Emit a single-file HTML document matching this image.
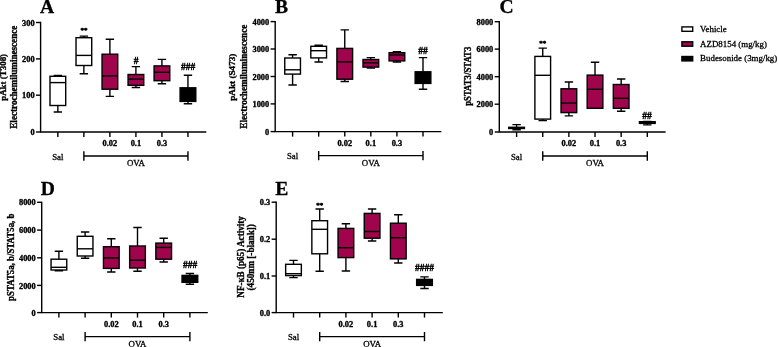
<!DOCTYPE html>
<html>
<head>
<meta charset="utf-8">
<title>Figure</title>
<style>
html,body{margin:0;padding:0;background:#fff;}
body{width:778px;height:347px;overflow:hidden;font-family:"Liberation Serif",serif;}
svg{display:block;will-change:transform;filter:blur(0.3px);font-family:"Liberation Serif",serif;}
svg path,svg rect{stroke:#000;stroke-width:1.4;}
svg text{fill:#000;stroke:#000;stroke-width:0.3;}
svg text.a{stroke-width:0.45;}
svg text.b{font-weight:bold;stroke:#000;stroke-width:0.35;}
</style>
</head>
<body>
<svg width="778" height="347" viewBox="0 0 778 347">
<rect x="0" y="0" width="778" height="347" fill="#fff" style="stroke:none"/>
<g id="A">
<text x="40" y="13.3" font-size="19.6" font-weight="bold">A</text>
<path d="M40.6 21.85V132H206.3" fill="none"/>
<path d="M36 22.5H40.6"/>
<text x="34.6" y="25.6" font-size="8.4" class="b" text-anchor="end">300</text>
<path d="M36 58.9H40.6"/>
<text x="34.6" y="62" font-size="8.4" class="b" text-anchor="end">200</text>
<path d="M36 95.2H40.6"/>
<text x="34.6" y="98.3" font-size="8.4" class="b" text-anchor="end">100</text>
<path d="M36 132H40.6"/>
<text x="34.6" y="135.1" font-size="8.4" class="b" text-anchor="end">0</text>
<path d="M57.85 132V137"/>
<path d="M83.87 132V137"/>
<path d="M109.89 132V137"/>
<path d="M135.91 132V137"/>
<path d="M161.93 132V137"/>
<path d="M187.95 132V137"/>
<text x="109.89" y="146.3" font-size="8.4" class="b" text-anchor="middle">0.02</text>
<text x="135.91" y="146.3" font-size="8.4" class="b" text-anchor="middle">0.1</text>
<text x="161.93" y="146.3" font-size="8.4" class="b" text-anchor="middle">0.3</text>
<text x="57.85" y="159.5" font-size="8.8" text-anchor="middle">Sal</text>
<text x="135.91" y="166.2" font-size="8.8" text-anchor="middle">OVA</text>
<path d="M83.87 156H187.95M83.87 151.3V160.7M187.95 151.3V160.7"/>
<text transform="translate(5.5 100.8) rotate(-90)" font-size="9.2" class="b" textLength="46.9" lengthAdjust="spacingAndGlyphs">pAkt (T308)</text>
<text transform="translate(16.9 128.7) rotate(-90)" font-size="9.6" class="b" textLength="103" lengthAdjust="spacingAndGlyphs">Electrochemiluminescence</text>
<path d="M57.85 75.4V76.3M57.85 105.5V112M53.65 75.4H62.05M53.65 112H62.05"/><rect x="50" y="76.3" width="15.7" height="29.2" fill="#fff"/><path d="M50 82.6H65.7"/>
<path d="M83.87 36.1V37.7M83.87 65.5V73.8M79.67 36.1H88.07M79.67 73.8H88.07"/><rect x="76.02" y="37.7" width="15.7" height="27.8" fill="#fff"/><path d="M76.02 55.4H91.72"/>
<path d="M109.89 39.3V54.2M109.89 89.2V96.4M105.69 39.3H114.09M105.69 96.4H114.09"/><rect x="102.04" y="54.2" width="15.7" height="35" fill="#A0044D"/><path d="M102.04 75.9H117.74"/>
<path d="M135.91 66.6V74.5M135.91 85.3V87.5M131.71 66.6H140.11M131.71 87.5H140.11"/><rect x="128.06" y="74.5" width="15.7" height="10.8" fill="#A0044D"/><path d="M128.06 79.1H143.76"/>
<path d="M161.93 59.4V65.9M161.93 80.7V83.7M157.73 59.4H166.13M157.73 83.7H166.13"/><rect x="154.08" y="65.9" width="15.7" height="14.8" fill="#A0044D"/><path d="M154.08 72.3H169.78"/>
<path d="M187.95 75.2V87.8M187.95 101.4V103.7M183.75 75.2H192.15M183.75 103.7H192.15"/><rect x="180.1" y="87.8" width="15.7" height="13.6" fill="#000"/>
<text x="84" y="32.2" font-size="7" font-weight="bold" class="a" text-anchor="middle">**</text>
<text x="136" y="63.8" font-size="9.5" font-weight="normal" class="a" text-anchor="middle">#</text>
<text x="188" y="69.9" font-size="9.5" font-weight="normal" class="a" text-anchor="middle">###</text>
</g>
<g id="B">
<text x="275" y="13.3" font-size="19.6" font-weight="bold">B</text>
<path d="M275.2 20.95V131.6H441.3" fill="none"/>
<path d="M270.6 21.6H275.2"/>
<text x="269.2" y="24.7" font-size="8.4" class="b" text-anchor="end">4000</text>
<path d="M270.6 49H275.2"/>
<text x="269.2" y="52.1" font-size="8.4" class="b" text-anchor="end">3000</text>
<path d="M270.6 76.5H275.2"/>
<text x="269.2" y="79.6" font-size="8.4" class="b" text-anchor="end">2000</text>
<path d="M270.6 103.9H275.2"/>
<text x="269.2" y="107" font-size="8.4" class="b" text-anchor="end">1000</text>
<path d="M270.6 131.6H275.2"/>
<text x="269.2" y="134.7" font-size="8.4" class="b" text-anchor="end">0</text>
<path d="M292.6 131.6V136.6"/>
<path d="M318.68 131.6V136.6"/>
<path d="M344.76 131.6V136.6"/>
<path d="M370.84 131.6V136.6"/>
<path d="M396.92 131.6V136.6"/>
<path d="M423 131.6V136.6"/>
<text x="344.76" y="145.9" font-size="8.4" class="b" text-anchor="middle">0.02</text>
<text x="370.84" y="145.9" font-size="8.4" class="b" text-anchor="middle">0.1</text>
<text x="396.92" y="145.9" font-size="8.4" class="b" text-anchor="middle">0.3</text>
<text x="292.6" y="159.1" font-size="8.8" text-anchor="middle">Sal</text>
<text x="370.84" y="165.8" font-size="8.8" text-anchor="middle">OVA</text>
<path d="M318.68 155.6H423M318.68 150.9V160.3M423 150.9V160.3"/>
<text transform="translate(235.3 100.8) rotate(-90)" font-size="9.2" class="b" textLength="47.2" lengthAdjust="spacingAndGlyphs">pAkt (S473)</text>
<text transform="translate(246.9 128.7) rotate(-90)" font-size="9.6" class="b" textLength="104.1" lengthAdjust="spacingAndGlyphs">Electrochemiluminescence</text>
<path d="M292.6 54.8V58M292.6 74.1V85M288.4 54.8H296.8M288.4 85H296.8"/><rect x="284.75" y="58" width="15.7" height="16.1" fill="#fff"/><path d="M284.75 69.8H300.45"/>
<path d="M318.68 45.3V46.3M318.68 57.9V62M314.48 45.3H322.88M314.48 62H322.88"/><rect x="310.83" y="46.3" width="15.7" height="11.6" fill="#fff"/><path d="M310.83 50.7H326.53"/>
<path d="M344.76 29.9V48.4M344.76 79.2V81.5M340.56 29.9H348.96M340.56 81.5H348.96"/><rect x="336.91" y="48.4" width="15.7" height="30.8" fill="#A0044D"/><path d="M336.91 61.9H352.61"/>
<path d="M370.84 57.6V59.5M370.84 67.1V68.1M366.64 57.6H375.04M366.64 68.1H375.04"/><rect x="362.99" y="59.5" width="15.7" height="7.6" fill="#A0044D"/><path d="M362.99 62.8H378.69"/>
<path d="M396.92 51.8V52.7M396.92 60.9V62M392.72 51.8H401.12M392.72 62H401.12"/><rect x="389.07" y="52.7" width="15.7" height="8.2" fill="#A0044D"/><path d="M389.07 55H404.77"/>
<path d="M423 57.6V71.8M423 83.4V89.3M418.8 57.6H427.2M418.8 89.3H427.2"/><rect x="415.15" y="71.8" width="15.7" height="11.6" fill="#000"/>
<text x="423" y="53.5" font-size="9.5" font-weight="normal" class="a" text-anchor="middle">##</text>
</g>
<g id="C">
<text x="499.6" y="13.3" font-size="19.6" font-weight="bold">C</text>
<path d="M499.3 21.05V132H665.6" fill="none"/>
<path d="M494.7 21.7H499.3"/>
<text x="493.3" y="24.8" font-size="8.4" class="b" text-anchor="end">8000</text>
<path d="M494.7 49.1H499.3"/>
<text x="493.3" y="52.2" font-size="8.4" class="b" text-anchor="end">6000</text>
<path d="M494.7 76.7H499.3"/>
<text x="493.3" y="79.8" font-size="8.4" class="b" text-anchor="end">4000</text>
<path d="M494.7 104.2H499.3"/>
<text x="493.3" y="107.3" font-size="8.4" class="b" text-anchor="end">2000</text>
<path d="M494.7 132H499.3"/>
<text x="493.3" y="135.1" font-size="8.4" class="b" text-anchor="end">0</text>
<path d="M516.6 132V137"/>
<path d="M542.74 132V137"/>
<path d="M568.88 132V137"/>
<path d="M595.02 132V137"/>
<path d="M621.16 132V137"/>
<path d="M647.3 132V137"/>
<text x="568.88" y="146.3" font-size="8.4" class="b" text-anchor="middle">0.02</text>
<text x="595.02" y="146.3" font-size="8.4" class="b" text-anchor="middle">0.1</text>
<text x="621.16" y="146.3" font-size="8.4" class="b" text-anchor="middle">0.3</text>
<text x="516.6" y="159.5" font-size="8.8" text-anchor="middle">Sal</text>
<text x="595.02" y="166.2" font-size="8.8" text-anchor="middle">OVA</text>
<path d="M542.74 156H647.3M542.74 151.3V160.7M647.3 151.3V160.7"/>
<text transform="translate(471.4 105.8) rotate(-90)" font-size="9.6" class="b" textLength="59.1" lengthAdjust="spacingAndGlyphs">pSTAT3/STAT3</text>
<path d="M516.6 124.6V127.3M516.6 128.5V129.7M512.4 124.6H520.8M512.4 129.7H520.8"/><rect x="508.75" y="127.3" width="15.7" height="1.2" fill="#000"/>
<path d="M542.74 48.1V56.4M542.74 119.1V120.6M538.54 48.1H546.94M538.54 120.6H546.94"/><rect x="534.89" y="56.4" width="15.7" height="62.7" fill="#fff"/><path d="M534.89 75.3H550.59"/>
<path d="M568.88 82V88.8M568.88 112.6V115.9M564.68 82H573.08M564.68 115.9H573.08"/><rect x="561.03" y="88.8" width="15.7" height="23.8" fill="#A0044D"/><path d="M561.03 103.1H576.73"/>
<path d="M595.02 62.2V75.1M595.02 108.3V108.3M590.82 62.2H599.22M590.82 108.3H599.22"/><rect x="587.17" y="75.1" width="15.7" height="33.2" fill="#A0044D"/><path d="M587.17 89.3H602.87"/>
<path d="M621.16 79V84.5M621.16 108.3V111.2M616.96 79H625.36M616.96 111.2H625.36"/><rect x="613.31" y="84.5" width="15.7" height="23.8" fill="#A0044D"/><path d="M613.31 98.3H629.01"/>
<path d="M647.3 121.4V121.7M647.3 123.4V124.9M643.1 121.4H651.5M643.1 124.9H651.5"/><rect x="639.45" y="121.7" width="15.7" height="1.7" fill="#000"/>
<text x="542.8" y="44.8" font-size="7" font-weight="bold" class="a" text-anchor="middle">**</text>
<text x="647.1" y="118.9" font-size="9.5" font-weight="normal" class="a" text-anchor="middle">##</text>
</g>
<g id="D">
<text x="40.7" y="195" font-size="19.6" font-weight="bold">D</text>
<path d="M41.7 201.65V312.6H207.8" fill="none"/>
<path d="M37.1 202.3H41.7"/>
<text x="35.7" y="205.4" font-size="8.4" class="b" text-anchor="end">8000</text>
<path d="M37.1 230.1H41.7"/>
<text x="35.7" y="233.2" font-size="8.4" class="b" text-anchor="end">6000</text>
<path d="M37.1 257.8H41.7"/>
<text x="35.7" y="260.9" font-size="8.4" class="b" text-anchor="end">4000</text>
<path d="M37.1 285.4H41.7"/>
<text x="35.7" y="288.5" font-size="8.4" class="b" text-anchor="end">2000</text>
<path d="M37.1 312.6H41.7"/>
<text x="35.7" y="315.7" font-size="8.4" class="b" text-anchor="end">0</text>
<path d="M58.9 312.6V317.6"/>
<path d="M85.1 312.6V317.6"/>
<path d="M111.3 312.6V317.6"/>
<path d="M137.5 312.6V317.6"/>
<path d="M163.7 312.6V317.6"/>
<path d="M189.9 312.6V317.6"/>
<text x="111.3" y="326.9" font-size="8.4" class="b" text-anchor="middle">0.02</text>
<text x="137.5" y="326.9" font-size="8.4" class="b" text-anchor="middle">0.1</text>
<text x="163.7" y="326.9" font-size="8.4" class="b" text-anchor="middle">0.3</text>
<text x="58.9" y="340.1" font-size="8.8" text-anchor="middle">Sal</text>
<text x="137.5" y="346.8" font-size="8.8" text-anchor="middle">OVA</text>
<path d="M85.1 336.6H189.9M85.1 331.9V341.3M189.9 331.9V341.3"/>
<text transform="translate(13.8 300.9) rotate(-90)" font-size="9.6" class="b" textLength="87.3" lengthAdjust="spacingAndGlyphs">pSTAT5a, b/STAT5a, b</text>
<path d="M58.9 251.3V259.2M58.9 270V270.7M54.7 251.3H63.1M54.7 270.7H63.1"/><rect x="51.05" y="259.2" width="15.7" height="10.8" fill="#fff"/><path d="M51.05 267.3H66.75"/>
<path d="M85.1 232V236.3M85.1 256V258.2M80.9 232H89.3M80.9 258.2H89.3"/><rect x="77.25" y="236.3" width="15.7" height="19.7" fill="#fff"/><path d="M77.25 248.8H92.95"/>
<path d="M111.3 238.8V246.7M111.3 268.4V272M107.1 238.8H115.5M107.1 272H115.5"/><rect x="103.45" y="246.7" width="15.7" height="21.7" fill="#A0044D"/><path d="M103.45 257.9H119.15"/>
<path d="M137.5 227.5V246M137.5 268V271.2M133.3 227.5H141.7M133.3 271.2H141.7"/><rect x="129.65" y="246" width="15.7" height="22" fill="#A0044D"/><path d="M129.65 260.2H145.35"/>
<path d="M163.7 238.3V243.1M163.7 259.2V262M159.5 238.3H167.9M159.5 262H167.9"/><rect x="155.85" y="243.1" width="15.7" height="16.1" fill="#A0044D"/><path d="M155.85 247.4H171.55"/>
<path d="M189.9 273.5V275.4M189.9 282.3V284.3M185.7 273.5H194.1M185.7 284.3H194.1"/><rect x="182.05" y="275.4" width="15.7" height="6.9" fill="#000"/>
<text x="190" y="267.6" font-size="9.5" font-weight="normal" class="a" text-anchor="middle">###</text>
</g>
<g id="E">
<text x="275.3" y="195" font-size="19.6" font-weight="bold">E</text>
<path d="M276.2 201.55V312.6H442.8" fill="none"/>
<path d="M271.6 202.2H276.2"/>
<text x="270.2" y="205.3" font-size="8.4" class="b" text-anchor="end">0.3</text>
<path d="M271.6 239.2H276.2"/>
<text x="270.2" y="242.3" font-size="8.4" class="b" text-anchor="end">0.2</text>
<path d="M271.6 276H276.2"/>
<text x="270.2" y="279.1" font-size="8.4" class="b" text-anchor="end">0.1</text>
<path d="M271.6 312.6H276.2"/>
<text x="270.2" y="315.7" font-size="8.4" class="b" text-anchor="end">0.0</text>
<path d="M293.5 312.6V317.6"/>
<path d="M319.7 312.6V317.6"/>
<path d="M345.9 312.6V317.6"/>
<path d="M372.1 312.6V317.6"/>
<path d="M398.3 312.6V317.6"/>
<path d="M424.5 312.6V317.6"/>
<text x="345.9" y="326.9" font-size="8.4" class="b" text-anchor="middle">0.02</text>
<text x="372.1" y="326.9" font-size="8.4" class="b" text-anchor="middle">0.1</text>
<text x="398.3" y="326.9" font-size="8.4" class="b" text-anchor="middle">0.3</text>
<text x="293.5" y="340.1" font-size="8.8" text-anchor="middle">Sal</text>
<text x="372.1" y="346.8" font-size="8.8" text-anchor="middle">OVA</text>
<path d="M319.7 336.6H424.5M319.7 331.9V341.3M424.5 331.9V341.3"/>
<text transform="translate(243.7 297.7) rotate(-90)" font-size="9.6" class="b" textLength="81.6" lengthAdjust="spacingAndGlyphs">NF-κB (p65) Activity</text>
<text transform="translate(254.3 290.5) rotate(-90)" font-size="9.6" class="b" textLength="66.4" lengthAdjust="spacingAndGlyphs">(450nm [-blank])</text>
<path d="M293.5 260.4V264.3M293.5 275.6V277.6M289.3 260.4H297.7M289.3 277.6H297.7"/><rect x="285.65" y="264.3" width="15.7" height="11.3" fill="#fff"/><path d="M285.65 273.7H301.35"/>
<path d="M319.7 209V220.7M319.7 253.8V271.3M315.5 209H323.9M315.5 271.3H323.9"/><rect x="311.85" y="220.7" width="15.7" height="33.1" fill="#fff"/><path d="M311.85 229.3H327.55"/>
<path d="M345.9 223.8V228.4M345.9 257.6V271M341.7 223.8H350.1M341.7 271H350.1"/><rect x="338.05" y="228.4" width="15.7" height="29.2" fill="#A0044D"/><path d="M338.05 247.7H353.75"/>
<path d="M372.1 209V213.4M372.1 238.2V241M367.9 209H376.3M367.9 241H376.3"/><rect x="364.25" y="213.4" width="15.7" height="24.8" fill="#A0044D"/><path d="M364.25 231.5H379.95"/>
<path d="M398.3 214.7V223.2M398.3 258.9V263M394.1 214.7H402.5M394.1 263H402.5"/><rect x="390.45" y="223.2" width="15.7" height="35.7" fill="#A0044D"/><path d="M390.45 237.7H406.15"/>
<path d="M424.5 276.9V279.4M424.5 285.4V288.5M420.3 276.9H428.7M420.3 288.5H428.7"/><rect x="416.65" y="279.4" width="15.7" height="6" fill="#000"/>
<text x="319.8" y="206.8" font-size="7" font-weight="bold" class="a" text-anchor="middle">**</text>
<text x="424.4" y="271.2" font-size="9.5" font-weight="normal" class="a" text-anchor="middle">####</text>
</g>
<g id="legend">
<rect x="681.9" y="26.9" width="10.8" height="4.4" fill="#fff"/>
<text x="700.1" y="31.8" font-size="8.9">Vehicle</text>
<rect x="681.9" y="41.8" width="10.8" height="4.4" fill="#A0044D"/>
<text x="700.1" y="46.7" font-size="8.9">AZD8154 (mg/kg)</text>
<rect x="681.9" y="56.5" width="10.8" height="4.4" fill="#000"/>
<text x="700.1" y="61.4" font-size="8.9">Budesonide (3mg/kg)</text>
</g>
</svg>
</body>
</html>
